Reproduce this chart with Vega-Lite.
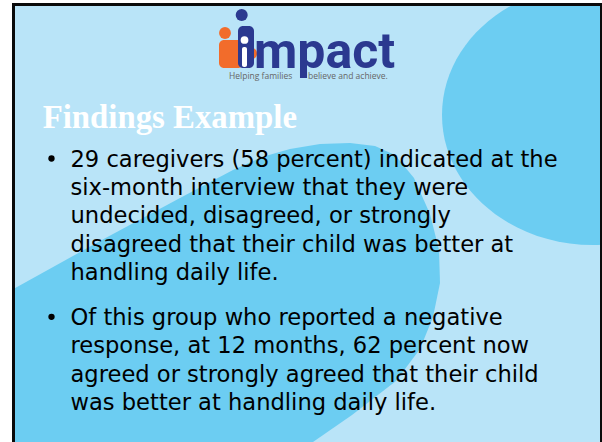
{
  "$schema": "https://vega.github.io/schema/vega-lite/v6.json",
  "width": 602,
  "height": 442,
  "autosize": {"type": "none"},
  "padding": 0,
  "background": "white",
  "config": {"view": {"stroke": null}},
  "datasets": {
    "panel": [{"x": 15, "x2": 600, "y": 6, "y2": 442}],
    "bubble": [{"x": 593, "y": 115}],
    "swoosh": [
      {"i": 1, "x": 8, "y": 292},
      {"i": 2, "x": 100, "y": 241},
      {"i": 3, "x": 180, "y": 198},
      {"i": 4, "x": 233, "y": 170},
      {"i": 5, "x": 262, "y": 157},
      {"i": 6, "x": 290, "y": 149},
      {"i": 7, "x": 320, "y": 144},
      {"i": 8, "x": 350, "y": 143},
      {"i": 9, "x": 375, "y": 146},
      {"i": 10, "x": 395, "y": 155},
      {"i": 11, "x": 414, "y": 178},
      {"i": 12, "x": 430, "y": 214},
      {"i": 13, "x": 439, "y": 250},
      {"i": 14, "x": 440, "y": 283},
      {"i": 15, "x": 433, "y": 317},
      {"i": 16, "x": 420, "y": 349},
      {"i": 17, "x": 396, "y": 381},
      {"i": 18, "x": 352, "y": 415},
      {"i": 19, "x": 313, "y": 442},
      {"i": 20, "x": 300, "y": 450},
      {"i": 21, "x": 8, "y": 450}
    ],
    "whiteStrips": [
      {"x": 0, "x2": 12, "y": 0, "y2": 442},
      {"x": 0, "x2": 602, "y": 0, "y2": 3}
    ],
    "blackFrame": [
      {"x": 12, "x2": 15, "y": 3, "y2": 442},
      {"x": 12, "x2": 602, "y": 3, "y2": 6},
      {"x": 600, "x2": 602, "y": 3, "y2": 442}
    ],
    "orangeParts": [
      {"x": 219, "x2": 243, "y": 40, "y2": 68},
      {"x": 247, "x2": 257, "y": 48, "y2": 59}
    ],
    "navyParts": [{"x": 238, "x2": 254, "y": 26, "y2": 68}],
    "whiteParts": [{"x": 242, "x2": 247, "y": 47, "y2": 67}],
    "navyHead": [{"x": 241.7, "y": 15}],
    "orangeHead": [{"x": 225, "y": 33}],
    "whiteHead": [{"x": 244.5, "y": 40}],
    "logoWord": [{"x": 254, "y": 68, "t": "mpact"}],
    "tagline": [
      {"x": 229, "y": 78.5, "t": "Helping families"},
      {"x": 308, "y": 78.5, "t": "believe and achieve."}
    ],
    "title": [{"x": 42.7, "y": 128.3, "t": "Findings Example"}],
    "bullets": [{"x": 51.5, "y": 158.5}, {"x": 51.5, "y": 316.8}],
    "lines": [
      {"x": 70.5, "y": 166.7, "t": "29 caregivers (58 percent) indicated at the"},
      {"x": 70.5, "y": 195, "t": "six-month interview that they were"},
      {"x": 70.5, "y": 223.3, "t": "undecided, disagreed, or strongly"},
      {"x": 70.5, "y": 251.6, "t": "disagreed that their child was better at"},
      {"x": 70.5, "y": 280, "t": "handling daily life."},
      {"x": 70.5, "y": 325, "t": "Of this group who reported a negative"},
      {"x": 70.5, "y": 353.3, "t": "response, at 12 months, 62 percent now"},
      {"x": 70.5, "y": 381.6, "t": "agreed or strongly agreed that their child"},
      {"x": 70.5, "y": 410, "t": "was better at handling daily life."}
    ]
  },
  "encoding": {
    "x": {"field": "x", "type": "quantitative", "scale": {"domain": [0, 602], "nice": false, "zero": false}, "axis": null},
    "y": {"field": "y", "type": "quantitative", "scale": {"domain": [0, 442], "nice": false, "zero": false, "reverse": true}, "axis": null}
  },
  "layer": [
    {
      "data": {"name": "panel"},
      "mark": {"type": "rect", "fill": "#b9e4f8"},
      "encoding": {"x2": {"field": "x2"}, "y2": {"field": "y2"}}
    },
    {
      "data": {"name": "bubble"},
      "mark": {"type": "point", "shape": "M-1,0A1,0.861,0,1,0,1,0A1,0.861,0,1,0,-1,0Z", "size": 91204, "filled": true, "fill": "#6ccdf2", "opacity": 1, "strokeWidth": 0}
    },
    {
      "data": {"name": "swoosh"},
      "mark": {"type": "line", "fill": "#6ccdf2", "stroke": null, "interpolate": "linear", "strokeWidth": 0},
      "encoding": {"order": {"field": "i", "type": "quantitative"}}
    },
    {
      "data": {"name": "whiteStrips"},
      "mark": {"type": "rect", "fill": "white"},
      "encoding": {"x2": {"field": "x2"}, "y2": {"field": "y2"}}
    },
    {
      "data": {"name": "blackFrame"},
      "mark": {"type": "rect", "fill": "#0a0a0a"},
      "encoding": {"x2": {"field": "x2"}, "y2": {"field": "y2"}}
    },
    {
      "data": {"name": "orangeParts"},
      "mark": {"type": "rect", "fill": "#f26c2b", "cornerRadius": 5},
      "encoding": {"x2": {"field": "x2"}, "y2": {"field": "y2"}}
    },
    {
      "data": {"name": "navyParts"},
      "mark": {"type": "rect", "fill": "#2b3990", "cornerRadius": 5},
      "encoding": {"x2": {"field": "x2"}, "y2": {"field": "y2"}}
    },
    {
      "data": {"name": "whiteParts"},
      "mark": {"type": "rect", "fill": "white", "cornerRadius": 2},
      "encoding": {"x2": {"field": "x2"}, "y2": {"field": "y2"}}
    },
    {
      "data": {"name": "navyHead"},
      "mark": {"type": "circle", "size": 145, "fill": "#2b3990", "opacity": 1}
    },
    {
      "data": {"name": "orangeHead"},
      "mark": {"type": "circle", "size": 140, "fill": "#f26c2b", "opacity": 1}
    },
    {
      "data": {"name": "whiteHead"},
      "mark": {"type": "circle", "size": 60, "fill": "white", "opacity": 1}
    },
    {
      "data": {"name": "logoWord"},
      "mark": {"type": "text", "font": "Roboto", "fontWeight": "bold", "fontSize": 50, "fill": "#2b3990", "align": "left", "baseline": "alphabetic"},
      "encoding": {"text": {"field": "t"}}
    },
    {
      "data": {"name": "tagline"},
      "mark": {"type": "text", "font": "Open Sans", "fontSize": 8.5, "fill": "#666666", "align": "left", "baseline": "alphabetic"},
      "encoding": {"text": {"field": "t"}}
    },
    {
      "data": {"name": "title"},
      "mark": {"type": "text", "font": "Liberation Serif", "fontWeight": "bold", "fontSize": 32.8, "fill": "white", "align": "left", "baseline": "alphabetic"},
      "encoding": {"text": {"field": "t"}}
    },
    {
      "data": {"name": "bullets"},
      "mark": {"type": "circle", "size": 40, "fill": "black", "opacity": 1}
    },
    {
      "data": {"name": "lines"},
      "mark": {"type": "text", "font": "DejaVu Sans", "fontSize": 22.6, "fill": "black", "align": "left", "baseline": "alphabetic"},
      "encoding": {"text": {"field": "t"}}
    }
  ]
}
